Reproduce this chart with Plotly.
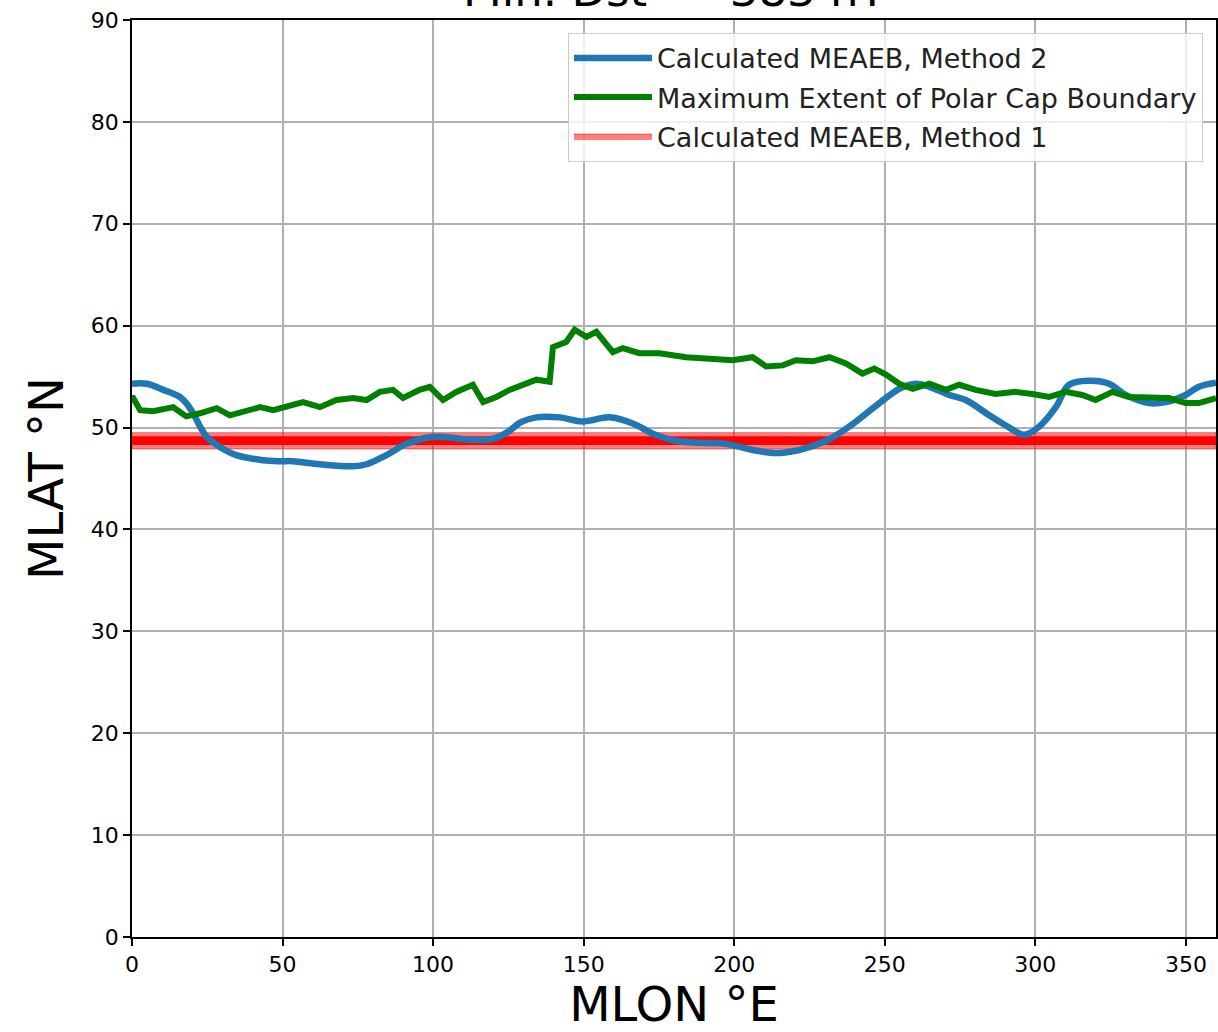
import plotly.graph_objects as go

# ---- data ----
method2_lon = [0, 4.9, 10.4, 15.9, 18, 20.3, 22.6, 24.8, 29.2, 34.7, 43.5, 49, 53.4, 62.4, 73.4, 77.9,
               84.5, 91.1, 97.7, 102.2, 113.2, 120, 125, 129, 134.3, 142, 149.7, 158.6, 166.3, 173,
               180.7, 188.4, 197.3, 206.1, 213.9, 221.6, 230.5, 238.2, 248.2, 254.8, 260.3, 264.8,
               271.4, 276.9, 284.7, 290.2, 296.3, 301.3, 306.8, 311.2, 317.9, 324.5, 330, 337.8,
               343.3, 349.9, 354.3, 360]
method2_lat = [54.3, 54.3, 53.7, 53.0, 52.4, 51.4, 50.1, 49.1, 48.1, 47.3, 46.8, 46.7, 46.7, 46.4, 46.2, 46.4,
               47.3, 48.4, 49.0, 49.1, 48.8, 48.9, 49.6, 50.5, 51.0, 51.0, 50.6, 51.0, 50.4, 49.4,
               48.7, 48.5, 48.4, 47.8, 47.5, 47.8, 48.7, 50.1, 52.4, 53.8, 54.3, 54.0,
               53.2, 52.7, 51.2, 50.2, 49.3, 50.1, 52.0, 54.2, 54.6, 54.3, 53.2, 52.4,
               52.5, 53.2, 54.0, 54.4]

polar_lon = [0, 0.4, 2.7, 7, 13.7, 18, 22.6, 28.1, 32.5, 38, 42.5, 46.9, 51.3, 56.8, 62.4, 67.9, 73.4,
             77.9, 82.3, 86.7, 90, 95.5, 98.9, 103.3, 107.7, 113.2, 116.6, 121, 125.4, 129.8, 134.3,
             138.7, 139.8, 144.2, 147, 150.9, 154.2, 159.7, 163, 168.5, 175.2, 184, 192.9, 199.5,
             206.1, 210.6, 216.1, 220.5, 226, 231.6, 237.1, 242.6, 246.5, 250.4, 254.8, 259.3,
             264.8, 270.3, 274.7, 280.2, 286.8, 293.5, 299, 304.6, 310.1, 315.6, 320, 325.6,
             331.1, 337.8, 344.4, 349.9, 354.3, 360]
polar_lat = [52.9, 52.9, 51.7, 51.6, 52.0, 51.1, 51.4, 51.9, 51.2, 51.7, 52.0, 51.7, 52.0, 52.5, 52.0, 52.7, 52.9,
             52.7, 53.5, 53.7, 52.9, 53.7, 54.0, 52.7, 53.5, 54.2, 52.5, 53.0, 53.7, 54.2, 54.7,
             54.5, 57.9, 58.4, 59.6, 58.9, 59.4, 57.4, 57.8, 57.3, 57.3, 56.9, 56.8, 56.6,
             56.9, 56.0, 56.1, 56.6, 56.5, 56.9, 56.3, 55.3, 55.8, 55.2, 54.3, 53.8,
             54.3, 53.7, 54.2, 53.7, 53.3, 53.5, 53.3, 53.0, 53.5, 53.2, 52.7, 53.5,
             53.0, 53.0, 52.9, 52.4, 52.4, 52.9]

method1_low, method1_high = 47.9, 49.5
method1_core_low, method1_core_high = 48.3, 49.15

lon_range = [0, 360]
lat_range = [0, 90]
x_ticks = [0, 50, 100, 150, 200, 250, 300, 350]
y_ticks = [0, 10, 20, 30, 40, 50, 60, 70, 80, 90]

title_text = "Min. Dst = -383 nT"
names = ["Calculated MEAEB, Method 2", "Maximum Extent of Polar Cap Boundary", "Calculated MEAEB, Method 1"]

fig = go.Figure()

x0, x1 = lon_range
fig.add_trace(go.Scatter(
    x=[x0, x1, x1, x0, x0], y=[method1_low, method1_low, method1_high, method1_high, method1_low],
    fill="toself", fillcolor="rgba(255,0,0,0.5)", mode="lines",
    line=dict(color="rgba(255,0,0,0.5)", width=1),
    name=names[2], legendrank=3, legendgroup="c", hoverinfo="skip"))
fig.add_trace(go.Scatter(
    x=[x0, x1, x1, x0, x0], y=[method1_core_low, method1_core_low, method1_core_high, method1_core_high, method1_core_low],
    fill="toself", fillcolor="rgb(255,0,0)", mode="lines",
    line=dict(color="rgb(255,0,0)", width=0),
    showlegend=False, hoverinfo="skip"))
fig.add_trace(go.Scatter(
    x=method2_lon, y=method2_lat, mode="lines", line=dict(color="#1f77b4", width=6.5, shape="spline"),
    name=names[0], legendrank=1, legendgroup="a"))
fig.add_trace(go.Scatter(
    x=polar_lon, y=polar_lat, mode="lines", line=dict(color="green", width=6),
    name=names[1], legendrank=2, legendgroup="b"))

font_family = "DejaVu Sans"
fig.update_layout(
    width=1218, height=1032,
    margin=dict(l=132, r=0, t=20, b=95),
    paper_bgcolor="white", plot_bgcolor="white",
    font=dict(family=font_family, color="black", size=22),
    legend=dict(
        x=0.988, y=0.986, xanchor="right", yanchor="top",
        bgcolor="rgba(255,255,255,0.8)", bordercolor="#cccccc", borderwidth=1,
        font=dict(size=27, color="#222222"), tracegroupgap=1, traceorder="grouped",
        itemwidth=78),
    xaxis=dict(
        range=lon_range, tickvals=x_ticks, showgrid=True, gridcolor="#b0b0b0", gridwidth=1.5,
        showline=True, linecolor="black", linewidth=1.5, mirror=True,
        ticks="outside", ticklen=7, tickwidth=1.5, tickcolor="black",
        tickfont=dict(size=22), zeroline=False,
        title=dict(text="MLON °E", font=dict(size=48), standoff=8)),
    yaxis=dict(
        range=lat_range, tickvals=y_ticks, showgrid=True, gridcolor="#b0b0b0", gridwidth=1.5,
        showline=True, linecolor="black", linewidth=1.5, mirror=True,
        ticks="outside", ticklen=7, tickwidth=1.5, tickcolor="black",
        tickfont=dict(size=22), zeroline=False,
        title=dict(text="MLAT °N", font=dict(size=48), standoff=12)),
    annotations=[dict(
        text=title_text, xref="paper", yref="paper", x=0.5, y=1.001,
        xanchor="center", yanchor="bottom", showarrow=False,
        font=dict(size=45, family=font_family, color="black"))],
)

fig.write_html("out.html")
